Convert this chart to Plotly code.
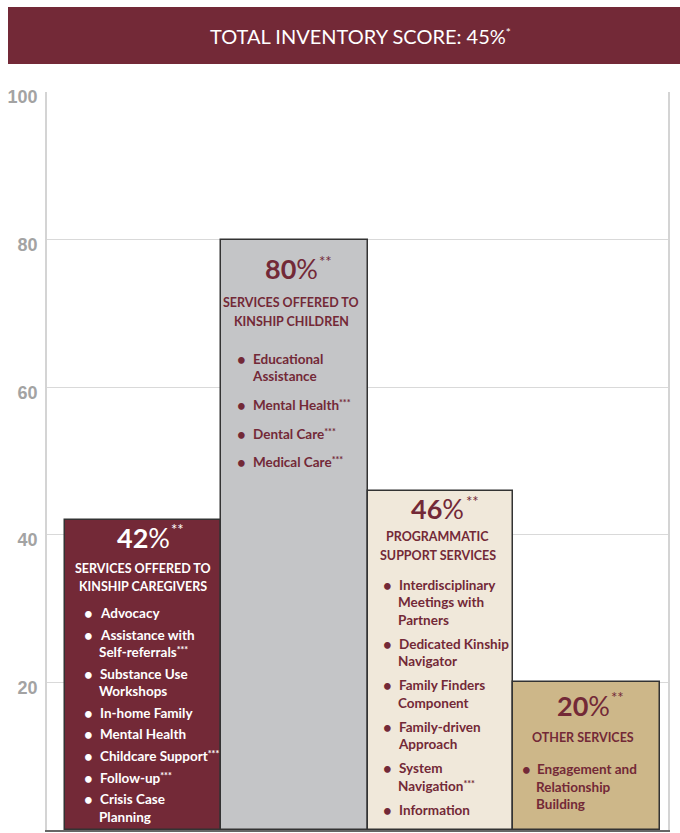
import plotly.graph_objects as go

# ---- data -------------------------------------------------------------
values = [42, 80, 46, 20]
titles = [
    ["SERVICES OFFERED TO", "KINSHIP CAREGIVERS"],
    ["SERVICES OFFERED TO", "KINSHIP CHILDREN"],
    ["PROGRAMMATIC", "SUPPORT SERVICES"],
    ["OTHER SERVICES"],
]
items = [
    [["Advocacy"], ["Assistance with", "Self-referrals***"], ["Substance Use", "Workshops"],
     ["In-home Family"], ["Mental Health"], ["Childcare Support***"], ["Follow-up***"],
     ["Crisis Case", "Planning"]],
    [["Educational", "Assistance"], ["Mental Health***"], ["Dental Care***"], ["Medical Care***"]],
    [["Interdisciplinary", "Meetings with", "Partners"], ["Dedicated Kinship", "Navigator"],
     ["Family Finders", "Component"], ["Family-driven", "Approach"],
     ["System", "Navigation***"], ["Information"]],
    [["Engagement and", "Relationship", "Building"]],
]
total_score = 45
y_ticks = [0, 20, 40, 60, 80, 100]

# ---- styling ----------------------------------------------------------
MAROON = "#732937"
bar_colors = ["#732937", "#c4c5c7", "#f0e8da", "#cdb789"]
text_colors = ["#ffffff", MAROON, MAROON, MAROON]
bar_edges = [18, 174, 321, 466, 613]          # x-axis units == pixels
header_dy = [17, 29, 18, 23]                   # px below bar top
title_dy = [48, 63, 46, 55]
first_item_dy = [93, 119, 94, 87]
item_step = [21.6, 28.7, 24.1, 0]
line_step = 17.5
center_dx = [78, 70, 69.5, 70]
bullet_dx = [23, 20, 19, 13]
text_dx = [33, 30, 29, 22]

FONT = "Lato, Noto Sans, sans-serif"
HEAD_SIZE = 27
TITLE_SIZE = 12.5
ITEM_SIZE = 13.5

centers = [(a + b) / 2 for a, b in zip(bar_edges[:-1], bar_edges[1:])]
widths = [b - a for a, b in zip(bar_edges[:-1], bar_edges[1:])]
lefts = bar_edges[:-1]

fig = go.Figure(go.Bar(
    x=centers, y=values, width=widths,
    marker=dict(color=bar_colors, line=dict(color="#333333", width=1.5)),
    hoverinfo="skip",
))


def raised(marks, size, shift):
    return f"<span style='font-size:{size}px;baseline-shift:{shift}px'>{marks}</span>"


def fmt(line):
    # trailing footnote marks, small and raised
    if line.endswith("***"):
        return line[:-3] + raised("***", 9, 4)
    return line


def head_width(v):
    # approximate rendered width of the bold digits plus the percent sign
    return (0.58 * len(str(v)) + 0.80) * HEAD_SIZE


annotations = []
for i, v in enumerate(values):
    col = text_colors[i]
    cx = lefts[i] + center_dx[i]
    # percentage header, with its footnote marks
    annotations.append(dict(
        x=cx, y=v, xref="x", yref="y", yshift=-header_dy[i],
        text=f"<b>{v}</b>%", showarrow=False,
        font=dict(family=FONT, size=HEAD_SIZE, color=col), xanchor="center", yanchor="middle",
    ))
    annotations.append(dict(
        x=cx + head_width(v) / 2, y=v, xref="x", yref="y", yshift=-header_dy[i] + 8,
        text="**", showarrow=False,
        font=dict(family=FONT, size=15, color=col), xanchor="left", yanchor="middle",
    ))
    # category title
    for k, t in enumerate(titles[i]):
        annotations.append(dict(
            x=cx, y=v, xref="x", yref="y",
            yshift=-(title_dy[i] + k * 18.5),
            text=f"<b>{t}</b>", showarrow=False,
            font=dict(family=FONT, size=TITLE_SIZE, color=col), xanchor="center", yanchor="middle",
        ))
    # bullet list
    dy = first_item_dy[i]
    for item in items[i]:
        annotations.append(dict(
            x=lefts[i] + bullet_dx[i], y=v, xref="x", yref="y", yshift=-dy,
            text="<b>•</b>", showarrow=False,
            font=dict(family=FONT, size=15, color=col), xanchor="center", yanchor="middle",
        ))
        for k, line in enumerate(item):
            annotations.append(dict(
                x=lefts[i] + text_dx[i] - (1 if k else 0), y=v, xref="x", yref="y",
                yshift=-(dy + k * line_step),
                text=f"<b>{fmt(line)}</b>", showarrow=False,
                font=dict(family=FONT, size=ITEM_SIZE, color=col), xanchor="left", yanchor="middle",
            ))
        dy += (len(item) - 1) * line_step + item_step[i]

# banner title with its footnote mark
annotations.append(dict(
    x=0.5, y=1, xref="paper", yref="paper", yshift=56, xshift=3,
    text=f"TOTAL INVENTORY SCORE: {total_score}%" + raised("*", 12, 7), showarrow=False,
    font=dict(family="Lato, Open Sans, sans-serif", size=20, color="#ffffff"),
    xanchor="center", yanchor="middle",
))

fig.update_layout(
    width=680, height=833,
    margin=dict(l=47, r=12, t=92, b=3),
    paper_bgcolor="#ffffff", plot_bgcolor="#ffffff",
    showlegend=False, bargap=0,
    annotations=annotations,
    shapes=[dict(
        type="rect", xref="paper", yref="paper",
        xsizemode="pixel", ysizemode="pixel", xanchor=0, yanchor=1,
        x0=-39, x1=640, y0=28, y1=85,
        fillcolor=MAROON, line=dict(width=0), layer="above",
    )],
    xaxis=dict(
        range=[0, 621], showgrid=False, zeroline=False, showticklabels=False,
        showline=True, linecolor="#666666", linewidth=2,
    ),
    yaxis=dict(
        range=[0, 100], tickvals=y_ticks, showgrid=True, gridcolor="#d9d9d9", gridwidth=1,
        zeroline=False, showline=True, mirror=True, linecolor="#d4d4d4", linewidth=1.5,
        ticks="", ticklabelstandoff=4, ticklabelshift=5,
        tickfont=dict(family="Liberation Sans, Arial, sans-serif", size=18, color="#a3a3a3",
                      weight="bold"),
    ),
)

fig.write_html("out.html")
